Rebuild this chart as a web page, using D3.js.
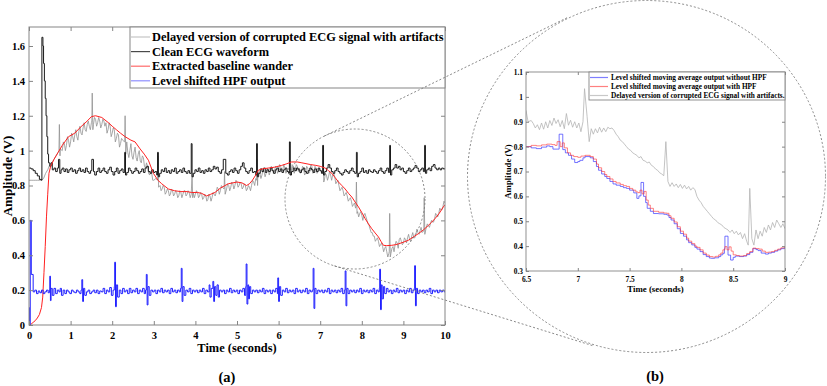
<!DOCTYPE html>
<html><head><meta charset="utf-8">
<script src="https://cdn.jsdelivr.net/npm/d3@7"></script>
<style>
body{margin:0;background:#fff}
text{font-family:"Liberation Serif","Times New Roman",serif;font-weight:bold;fill:#000}
</style>
</head><body><script>
// ---------------- DATA ----------------
const mainXTicks = [0,1,2,3,4,5,6,7,8,9,10];
const mainYTicks = [0,0.2,0.4,0.6,0.8,1,1.2,1.4,1.6];
const insetXTicks = [6.5,7,7.5,8,8.5,9];
const insetYTicks = [0.3,0.4,0.5,0.6,0.7,0.8,0.9,1,1.1];
const mainLegend = ["Delayed version of corrupted ECG signal with artifacts","Clean ECG waveform","Extracted baseline wander","Level shifted HPF output"];
const insetLegend = ["Level shifted moving average output without HPF","Level shifted moving average output with HPF","Delayed version of corrupted ECG signal with artifacts."];

// Delayed corrupted ECG (gray) [time s, amplitude V]
const corrupted = [[0,.83],[.05,.83],[.1,.83],[.15,.83],[.2,.83],[.25,.83],[.3,.83],[.35,.84],[.4,.87],[.45,.89],[.5,.92],[.55,.93],[.6,.95],[.65,.97],[.7,.99],[.72,1.0],[.73,1.15],[.745,.97],[.75,1.01],
[.8,1.0],[.825,1.05],[.85,1.04],[.875,1.0],[.9,1.03],[.925,1.08],[.95,1.06],[.975,1.02],[1.0,1.05],[1.025,1.1],[1.05,1.08],[1.075,1.05],[1.1,1.09],[1.125,1.12],[1.15,1.08],[1.175,1.06],[1.2,1.11],[1.225,1.14],[1.25,1.1],[1.275,1.09],[1.3,1.13],[1.325,1.16],[1.35,1.12],[1.375,1.11],[1.4,1.15],[1.425,1.17],[1.45,1.14],[1.475,1.12],[1.5,1.16],[1.51,1.17],[1.52,1.33],[1.535,1.12],
[1.55,1.15],[1.575,1.19],[1.6,1.18],[1.625,1.14],[1.65,1.16],[1.675,1.19],[1.7,1.17],[1.725,1.13],[1.75,1.15],[1.775,1.18],[1.8,1.17],[1.825,1.14],[1.85,1.16],[1.875,1.1],[1.9,1.12],[1.925,1.16],[1.95,1.14],[1.975,1.08],[2.0,1.1],[2.025,1.13],[2.05,1.12],[2.075,1.05],[2.1,1.07],[2.125,1.1],[2.15,1.09],[2.175,1.02],[2.2,1.04],[2.225,1.07],[2.25,1.06],[2.3,1.05],[2.31,1.2],[2.325,.98],
[2.35,1.05],[2.375,.99],[2.4,.96],[2.425,1.0],[2.45,1.04],[2.475,.97],[2.5,.95],[2.525,.99],[2.55,1.02],[2.575,.96],[2.6,.94],[2.625,.98],[2.65,1.0],[2.675,.94],[2.7,.93],[2.725,.97],[2.75,.96],[2.775,.91],[2.8,.9],[2.825,.93],[2.85,.91],[2.875,.87],[2.9,.86],[2.925,.88],[2.95,.87],[2.975,.83],[3.0,.83],[3.05,.84],[3.09,.83],[3.1,.97],[3.115,.79],
[3.15,.8],[3.175,.77],[3.2,.78],[3.225,.8],[3.25,.79],[3.275,.75],[3.3,.76],[3.325,.78],[3.35,.77],[3.375,.74],[3.4,.75],[3.425,.78],[3.45,.77],[3.475,.74],[3.5,.75],[3.525,.77],[3.55,.76],[3.575,.73],[3.6,.74],[3.625,.77],[3.65,.76],[3.675,.73],[3.7,.75],[3.725,.77],[3.75,.77],[3.775,.74],[3.8,.75],[3.825,.77],[3.85,.76],[3.875,.73],[3.9,.75],[3.92,.87],[3.935,.73],
[3.95,.76],[3.975,.73],[4.0,.75],[4.025,.77],[4.05,.76],[4.075,.73],[4.1,.74],[4.125,.76],[4.15,.75],[4.175,.72],[4.2,.73],[4.225,.75],[4.25,.74],[4.275,.71],[4.3,.72],[4.325,.75],[4.35,.74],[4.375,.71],[4.4,.73],[4.425,.76],[4.45,.75],[4.475,.74],[4.5,.76],[4.525,.79],[4.55,.78],[4.575,.75],[4.6,.77],[4.625,.8],[4.65,.79],[4.69,.78],[4.7,.88],[4.715,.75],
[4.75,.78],[4.775,.81],[4.8,.8],[4.825,.77],[4.85,.79],[4.875,.82],[4.9,.81],[4.925,.78],[4.95,.8],[4.975,.83],[5.0,.82],[5.025,.79],[5.05,.8],[5.075,.82],[5.1,.81],[5.125,.78],[5.15,.79],[5.175,.81],[5.2,.8],[5.225,.77],[5.25,.78],[5.275,.8],[5.3,.79],[5.325,.77],[5.35,.8],[5.375,.83],[5.4,.82],[5.425,.8],[5.45,.84],[5.47,.83],[5.48,.95],[5.495,.8],
[5.5,.85],[5.525,.88],[5.55,.87],[5.575,.84],[5.6,.86],[5.625,.89],[5.65,.88],[5.675,.85],[5.7,.87],[5.725,.9],[5.75,.89],[5.775,.86],[5.8,.88],[5.825,.91],[5.85,.9],[5.875,.87],[5.9,.88],[5.925,.91],[5.95,.9],[5.975,.87],[6.0,.89],[6.025,.92],[6.05,.91],[6.075,.88],[6.1,.89],[6.125,.92],[6.15,.9],[6.175,.87],[6.2,.88],[6.25,.9],[6.26,.89],[6.27,1.05],[6.285,.86],
[6.3,.88],[6.325,.92],[6.35,.91],[6.375,.87],[6.4,.89],[6.425,.92],[6.45,.91],[6.475,.88],[6.5,.9],[6.525,.87],[6.55,.88],[6.575,.91],[6.6,.9],[6.625,.86],[6.65,.87],[6.675,.91],[6.7,.9],[6.725,.87],[6.75,.88],[6.775,.92],[6.8,.91],[6.825,.87],[6.85,.88],[6.875,.91],[6.9,.9],[6.925,.87],[6.95,.88],[6.975,.9],[7.0,.89],[7.05,.87],[7.06,.88],[7.07,1.03],[7.085,.82],
[7.1,.83],[7.125,.87],[7.15,.86],[7.175,.83],[7.2,.85],[7.225,.88],[7.25,.86],[7.275,.83],[7.3,.86],[7.325,.87],[7.35,.85],[7.375,.81],[7.4,.82],[7.425,.83],[7.45,.8],[7.475,.77],[7.5,.78],[7.525,.79],[7.55,.77],[7.575,.74],[7.6,.75],[7.625,.76],[7.65,.74],[7.675,.71],[7.7,.72],[7.725,.73],[7.75,.71],[7.775,.68],[7.8,.69],[7.825,.7],[7.85,.67],[7.86,.68],[7.87,.82],[7.885,.64],
[7.9,.65],[7.925,.62],[7.95,.64],[7.975,.65],[8.0,.63],[8.025,.6],[8.05,.63],[8.075,.64],[8.1,.62],[8.125,.6],[8.15,.58],[8.175,.57],[8.2,.55],[8.225,.53],[8.25,.53],[8.275,.51],[8.3,.51],[8.325,.48],[8.35,.49],[8.375,.5],[8.4,.48],[8.425,.45],[8.45,.46],[8.475,.47],[8.5,.45],[8.525,.42],[8.55,.44],[8.575,.45],[8.6,.42],[8.625,.39],[8.65,.41],[8.66,.42],[8.67,.64],[8.685,.39],
[8.7,.41],[8.725,.44],[8.75,.45],[8.775,.42],[8.8,.46],[8.825,.48],[8.85,.47],[8.875,.44],[8.9,.49],[8.925,.5],[8.95,.48],[8.975,.46],[9.0,.47],[9.025,.5],[9.05,.49],[9.075,.47],[9.1,.5],[9.125,.52],[9.15,.49],[9.175,.48],[9.2,.51],[9.225,.53],[9.25,.5],[9.275,.5],[9.3,.52],[9.325,.55],[9.35,.53],[9.375,.52],[9.4,.54],[9.425,.56],[9.45,.53],[9.49,.54],[9.5,.73],[9.515,.52],
[9.55,.56],[9.575,.58],[9.6,.57],[9.625,.56],[9.65,.58],[9.675,.6],[9.7,.59],[9.725,.59],[9.75,.61],[9.775,.64],[9.8,.63],[9.825,.62],[9.85,.64],[9.875,.67],[9.9,.66],[9.925,.66],[9.95,.68],[9.975,.71],[10,.7]];

// Clean ECG (black)
const cleanECG = [[0,.9],[.05,.895],[.1,.885],[.15,.87],[.2,.855],[.25,.835],[.3,.83],[.31,1.65],[.335,1.6],[.35,1.5],[.37,1.4],[.39,1.3],[.41,1.2],[.43,1.08],[.45,.98],[.47,.93],[.5,.91],[.53,.93],[.56,.89],[.6,.9],[.64,.88],[.68,.9],[.71,.95],[.74,.87],[.77,.89],[.8,.9],[.84,.88],[.88,.895],[.92,.875],[.96,.89],[1.0,.9],[1.04,.88],[1.08,.89],[1.12,.87],[1.16,.885],[1.2,.9],[1.24,.88],[1.28,.89],[1.32,.875],[1.36,.9],[1.4,.88],[1.44,.87],[1.48,.885],[1.51,.95],[1.55,.88],[1.58,.86],[1.62,.88],[1.66,.9],[1.7,.875],[1.74,.885],[1.78,.9],[1.82,.88],[1.86,.87],[1.9,.89],[1.94,.905],[1.98,.88],[2.02,.86],[2.06,.88],[2.1,.9],[2.14,.87],[2.18,.885],[2.22,.895],[2.26,.875],[2.3,.99],[2.32,.86],[2.35,.875],[2.39,.9],[2.43,.885],[2.47,.87],[2.51,.88],[2.55,.9],[2.59,.885],[2.63,.87],[2.67,.88],[2.71,.895],[2.75,.875],[2.79,.9],[2.83,.91],[2.87,.88],[2.91,.87],[2.95,.89],[2.99,.875],[3.03,.88],[3.07,.86],[3.09,.99],[3.11,.85],[3.14,.87],[3.18,.89],[3.22,.88],[3.26,.9],[3.3,.875],[3.34,.885],[3.38,.87],[3.42,.89],[3.46,.88],[3.5,.9],[3.54,.87],[3.58,.88],[3.62,.89],[3.66,.875],[3.7,.9],[3.74,.88],[3.78,.87],[3.82,.885],[3.86,.87],[3.9,1.04],[3.92,.85],[3.95,.87],[3.99,.89],[4.03,.88],[4.07,.9],[4.11,.875],[4.15,.885],[4.19,.87],[4.23,.89],[4.27,.88],[4.31,.9],[4.35,.88],[4.39,.89],[4.43,.91],[4.47,.895],[4.51,.905],[4.55,.88],[4.59,.87],[4.63,.89],[4.67,.95],[4.73,.87],[4.77,.86],[4.81,.88],[4.85,.89],[4.89,.875],[4.93,.9],[4.97,.885],[5.01,.87],[5.05,.89],[5.09,.91],[5.13,.93],[5.17,.9],[5.21,.88],[5.25,.87],[5.29,.885],[5.33,.9],[5.37,.875],[5.41,.88],[5.45,.86],[5.47,1.04],[5.49,.85],[5.52,.87],[5.56,.895],[5.6,.88],[5.64,.9],[5.68,.875],[5.72,.89],[5.76,.88],[5.8,.9],[5.84,.885],[5.88,.87],[5.92,.89],[5.96,.9],[6.0,.88],[6.04,.895],[6.08,.875],[6.12,.89],[6.16,.9],[6.2,.88],[6.24,.87],[6.26,1.05],[6.28,.86],[6.31,.88],[6.35,.9],[6.39,.885],[6.43,.9],[6.47,.89],[6.51,.875],[6.55,.89],[6.59,.9],[6.63,.88],[6.67,.87],[6.71,.885],[6.75,.9],[6.79,.89],[6.83,.875],[6.87,.895],[6.91,.88],[6.95,.9],[6.99,.885],[7.03,.87],[7.06,1.03],[7.08,.86],[7.11,.88],[7.15,.9],[7.19,.92],[7.23,.9],[7.27,.88],[7.31,.87],[7.35,.885],[7.39,.9],[7.43,.88],[7.47,.87],[7.51,.86],[7.55,.875],[7.59,.89],[7.63,.88],[7.67,.87],[7.71,.885],[7.75,.9],[7.79,.88],[7.83,.87],[7.87,.99],[7.89,.85],[7.92,.87],[7.96,.88],[8.0,.9],[8.04,.875],[8.08,.885],[8.12,.87],[8.16,.89],[8.2,.88],[8.24,.875],[8.28,.89],[8.32,.88],[8.36,.87],[8.4,.885],[8.44,.9],[8.48,.88],[8.52,.87],[8.56,.885],[8.6,.9],[8.64,.875],[8.67,1.03],[8.69,.86],[8.72,.89],[8.76,.9],[8.8,.92],[8.84,.9],[8.88,.91],[8.92,.89],[8.96,.9],[9.0,.88],[9.04,.87],[9.08,.885],[9.12,.9],[9.16,.88],[9.2,.89],[9.24,.9],[9.28,.915],[9.32,.9],[9.36,.88],[9.4,.89],[9.44,.9],[9.48,.88],[9.51,1.03],[9.53,.87],[9.56,.89],[9.6,.9],[9.64,.885],[9.68,.91],[9.72,.92],[9.76,.9],[9.8,.89],[9.84,.9],[9.88,.89],[9.92,.9],[9.96,.895],[10,.9]];

// Extracted baseline wander (red)
const baseline = [[0,0],[.05,.005],[.1,.015],[.15,.025],[.2,.04],[.25,.06],[.3,.1],[.33,.16],[.36,.3],[.39,.45],[.42,.62],[.45,.75],[.48,.87],[.52,.91],[.6,.95],[.7,.99],[.8,1.03],[.95,1.08],[1.1,1.1],[1.24,1.135],[1.4,1.17],[1.5,1.195],[1.6,1.2],[1.75,1.19],[1.91,1.16],[2.0,1.14],[2.1,1.12],[2.2,1.1],[2.31,1.08],[2.45,1.06],[2.55,1.05],[2.67,1.01],[2.77,.98],[2.87,.945],[2.99,.87],[3.1,.83],[3.19,.81],[3.35,.78],[3.5,.77],[3.65,.765],[3.8,.765],[3.91,.76],[4.05,.76],[4.15,.755],[4.27,.74],[4.37,.75],[4.47,.76],[4.6,.785],[4.79,.81],[4.9,.815],[5.0,.82],[5.12,.815],[5.23,.8],[5.3,.81],[5.37,.83],[5.45,.86],[5.51,.887],[5.6,.895],[5.75,.9],[5.9,.905],[6.07,.915],[6.2,.925],[6.31,.935],[6.45,.935],[6.56,.93],[6.77,.92],[6.88,.916],[7.0,.91],[7.12,.9],[7.2,.885],[7.28,.87],[7.36,.845],[7.44,.82],[7.52,.8],[7.6,.78],[7.68,.755],[7.76,.734],[7.84,.705],[7.92,.677],[8.0,.645],[8.08,.61],[8.16,.58],[8.24,.552],[8.32,.528],[8.4,.505],[8.46,.48],[8.52,.457],[8.6,.455],[8.72,.457],[8.8,.46],[8.88,.465],[9.0,.475],[9.12,.486],[9.24,.505],[9.36,.524],[9.48,.545],[9.6,.571],[9.68,.59],[9.76,.61],[9.86,.64],[9.96,.677],[10,.69]];

// Level shifted HPF output (blue)
const hpfOut = [[0,.1],[.01,0],[.03,.6],[.055,.29],[.1,.19],[.14,.2],[.18,.18],[.22,.195],[.26,.185],[.3,.2],[.34,.18],[.38,.19],[.42,.2],[.46,.185],[.49,.2],[.5,.28],[.515,.14],[.53,.21],[.56,.17],[.6,.21],[.64,.18],[.68,.2],[.72,.19],[.75,.21],[.78,.17],[.82,.2],[.86,.18],[.9,.2],[.94,.19],[.98,.18],[1.02,.2],[1.06,.19],[1.1,.185],[1.14,.2],[1.18,.19],[1.22,.18],[1.25,.2],[1.27,.26],[1.29,.135],[1.31,.21],[1.34,.17],[1.38,.19],[1.42,.2],[1.46,.18],[1.5,.19],[1.54,.2],[1.58,.185],[1.62,.2],[1.66,.18],[1.7,.195],[1.74,.19],[1.78,.21],[1.82,.18],[1.86,.2],[1.9,.19],[1.94,.215],[1.98,.17],[2.02,.2],[2.05,.22],[2.06,.36],[2.08,.105],[2.1,.23],[2.13,.16],[2.17,.2],[2.21,.18],[2.25,.21],[2.29,.19],[2.33,.2],[2.37,.18],[2.41,.21],[2.45,.185],[2.49,.2],[2.53,.19],[2.57,.21],[2.61,.18],[2.65,.2],[2.69,.19],[2.73,.21],[2.77,.18],[2.8,.2],[2.82,.29],[2.84,.115],[2.86,.22],[2.89,.17],[2.93,.2],[2.97,.19],[3.01,.2],[3.05,.18],[3.09,.2],[3.13,.19],[3.17,.21],[3.21,.185],[3.25,.2],[3.29,.19],[3.33,.2],[3.37,.18],[3.41,.21],[3.45,.19],[3.49,.2],[3.53,.185],[3.57,.2],[3.61,.19],[3.64,.21],[3.66,.325],[3.68,.135],[3.7,.22],[3.73,.17],[3.77,.2],[3.81,.19],[3.85,.21],[3.89,.18],[3.93,.2],[3.97,.19],[4.01,.2],[4.05,.185],[4.09,.2],[4.13,.19],[4.17,.21],[4.21,.18],[4.25,.2],[4.29,.19],[4.33,.23],[4.35,.16],[4.38,.21],[4.42,.25],[4.44,.135],[4.46,.22],[4.49,.17],[4.52,.23],[4.55,.16],[4.58,.2],[4.62,.19],[4.66,.2],[4.7,.18],[4.74,.2],[4.78,.19],[4.82,.21],[4.86,.185],[4.9,.2],[4.94,.19],[4.98,.2],[5.02,.18],[5.06,.2],[5.1,.19],[5.14,.21],[5.18,.17],[5.21,.22],[5.22,.35],[5.24,.12],[5.26,.23],[5.28,.15],[5.3,.22],[5.33,.18],[5.37,.2],[5.41,.19],[5.45,.2],[5.49,.185],[5.53,.2],[5.57,.19],[5.61,.21],[5.65,.18],[5.69,.2],[5.73,.19],[5.77,.2],[5.81,.18],[5.85,.2],[5.89,.19],[5.93,.21],[5.97,.18],[5.98,.27],[6.0,.135],[6.02,.22],[6.05,.17],[6.09,.2],[6.13,.19],[6.17,.21],[6.21,.185],[6.25,.2],[6.29,.19],[6.33,.2],[6.37,.18],[6.41,.21],[6.45,.19],[6.49,.2],[6.53,.185],[6.57,.2],[6.61,.19],[6.65,.21],[6.69,.18],[6.73,.2],[6.77,.19],[6.81,.2],[6.83,.325],[6.85,.095],[6.87,.21],[6.9,.18],[6.94,.2],[6.98,.19],[7.02,.2],[7.06,.185],[7.1,.2],[7.14,.19],[7.18,.21],[7.22,.18],[7.26,.2],[7.3,.19],[7.34,.2],[7.38,.185],[7.42,.2],[7.46,.19],[7.5,.21],[7.54,.18],[7.58,.2],[7.6,.31],[7.62,.11],[7.64,.21],[7.67,.18],[7.71,.2],[7.75,.19],[7.79,.2],[7.83,.185],[7.87,.2],[7.91,.19],[7.95,.21],[7.99,.18],[8.03,.2],[8.07,.19],[8.11,.2],[8.15,.185],[8.19,.2],[8.23,.19],[8.27,.21],[8.31,.18],[8.35,.2],[8.39,.19],[8.42,.21],[8.43,.32],[8.45,.088],[8.47,.23],[8.49,.15],[8.52,.22],[8.55,.18],[8.59,.21],[8.63,.19],[8.67,.2],[8.71,.18],[8.75,.2],[8.79,.19],[8.83,.21],[8.87,.185],[8.91,.2],[8.95,.19],[8.99,.2],[9.03,.18],[9.07,.2],[9.11,.19],[9.15,.21],[9.19,.185],[9.23,.2],[9.26,.21],[9.27,.34],[9.29,.11],[9.31,.21],[9.34,.18],[9.38,.2],[9.42,.19],[9.46,.2],[9.5,.185],[9.54,.2],[9.58,.19],[9.62,.21],[9.66,.18],[9.7,.2],[9.74,.19],[9.78,.2],[9.82,.185],[9.86,.2],[9.9,.19],[9.94,.2],[9.98,.19],[10,.19]];

// Inset: moving average without HPF (blue)
const maNoHpf = [[6.5,.8],[6.55,.795],[6.6,.792],[6.65,.798],[6.7,.803],[6.73,.8],[6.76,.79],[6.8,.79],[6.82,.85],[6.855,.788],[6.88,.775],[6.91,.765],[6.94,.75],[6.97,.736],[7.0,.74],[7.02,.745],[7.05,.755],[7.07,.76],[7.12,.755],[7.15,.74],[7.18,.72],[7.2,.705],[7.23,.69],[7.26,.68],[7.28,.672],[7.31,.66],[7.34,.65],[7.37,.645],[7.41,.64],[7.44,.635],[7.47,.632],[7.5,.625],[7.54,.614],[7.57,.592],[7.59,.602],[7.61,.656],[7.635,.6],[7.655,.575],[7.67,.552],[7.7,.54],[7.73,.531],[7.78,.53],[7.83,.528],[7.86,.525],[7.88,.515],[7.9,.505],[7.93,.49],[7.96,.47],[7.99,.451],[8.02,.44],[8.05,.425],[8.07,.414],[8.1,.405],[8.13,.395],[8.15,.388],[8.18,.378],[8.21,.366],[8.24,.358],[8.27,.352],[8.29,.351],[8.32,.353],[8.36,.358],[8.38,.365],[8.4,.371],[8.415,.39],[8.42,.44],[8.45,.364],[8.475,.344],[8.5,.355],[8.52,.36],[8.56,.358],[8.6,.36],[8.63,.366],[8.66,.375],[8.69,.39],[8.72,.386],[8.74,.382],[8.77,.372],[8.81,.368],[8.84,.372],[8.87,.375],[8.9,.38],[8.93,.385],[8.96,.39],[9.0,.398]];

// Inset: moving average with HPF (red)
const maHpf = [[6.5,.8],[6.55,.805],[6.6,.803],[6.65,.807],[6.7,.81],[6.75,.808],[6.78,.805],[6.8,.82],[6.83,.8],[6.85,.815],[6.87,.795],[6.9,.775],[6.93,.765],[6.96,.76],[7.0,.757],[7.03,.762],[7.07,.765],[7.12,.76],[7.15,.75],[7.18,.73],[7.2,.715],[7.23,.7],[7.26,.688],[7.28,.68],[7.31,.67],[7.34,.66],[7.37,.654],[7.41,.648],[7.44,.643],[7.47,.64],[7.5,.632],[7.53,.625],[7.56,.618],[7.58,.615],[7.6,.625],[7.62,.61],[7.64,.62],[7.66,.585],[7.68,.565],[7.7,.552],[7.73,.54],[7.78,.536],[7.83,.533],[7.86,.532],[7.88,.522],[7.9,.512],[7.93,.497],[7.96,.478],[7.99,.46],[8.02,.448],[8.05,.432],[8.07,.42],[8.1,.41],[8.13,.4],[8.15,.395],[8.18,.385],[8.21,.372],[8.24,.364],[8.27,.358],[8.3,.356],[8.33,.359],[8.36,.365],[8.38,.372],[8.4,.385],[8.42,.398],[8.44,.385],[8.46,.397],[8.48,.38],[8.5,.365],[8.53,.362],[8.56,.36],[8.6,.362],[8.63,.37],[8.66,.378],[8.69,.392],[8.72,.39],[8.75,.388],[8.78,.38],[8.81,.375],[8.84,.376],[8.87,.378],[8.9,.383],[8.93,.388],[8.96,.393],[9.0,.4]];

// Inset: delayed corrupted ECG (gray)
const insetCorrupted = [[6.5,.946],[6.52,.9],[6.55,.905],[6.57,.893],[6.59,.875],[6.61,.888],[6.63,.868],[6.65,.895],[6.67,.87],[6.69,.9],[6.71,.875],[6.73,.905],[6.75,.885],[6.77,.915],[6.79,.893],[6.81,.908],[6.83,.88],[6.85,.905],[6.87,.872],[6.89,.933],[6.91,.886],[6.93,.906],[6.95,.878],[6.97,.9],[6.99,.875],[7.01,.895],[7.03,.86],[7.05,.9],[7.065,1.033],[7.09,.92],[7.11,.82],[7.13,.872],[7.15,.85],[7.17,.872],[7.19,.855],[7.21,.878],[7.23,.858],[7.25,.875],[7.27,.86],[7.29,.878],[7.31,.872],[7.33,.875],[7.35,.865],[7.37,.85],[7.39,.84],[7.41,.826],[7.43,.82],[7.45,.81],[7.47,.8],[7.49,.79],[7.51,.785],[7.53,.775],[7.55,.77],[7.57,.765],[7.59,.755],[7.61,.76],[7.63,.745],[7.65,.742],[7.67,.735],[7.69,.738],[7.71,.725],[7.73,.72],[7.75,.71],[7.77,.705],[7.79,.695],[7.81,.69],[7.83,.683],[7.85,.82],[7.87,.66],[7.89,.64],[7.91,.655],[7.93,.64],[7.95,.65],[7.97,.635],[7.99,.648],[8.01,.632],[8.03,.645],[8.05,.63],[8.07,.64],[8.09,.625],[8.11,.635],[8.13,.628],[8.15,.6],[8.17,.585],[8.19,.575],[8.21,.56],[8.23,.55],[8.25,.54],[8.27,.53],[8.29,.52],[8.31,.51],[8.33,.505],[8.35,.495],[8.37,.49],[8.39,.485],[8.41,.475],[8.43,.47],[8.45,.465],[8.47,.455],[8.49,.465],[8.51,.45],[8.53,.46],[8.55,.445],[8.57,.455],[8.59,.43],[8.61,.45],[8.63,.42],[8.645,.404],[8.66,.632],[8.68,.43],[8.7,.404],[8.72,.465],[8.74,.43],[8.76,.46],[8.78,.44],[8.8,.475],[8.82,.455],[8.84,.485],[8.86,.465],[8.88,.495],[8.9,.475],[8.92,.505],[8.94,.49],[8.96,.475],[8.98,.49],[9.0,.47]];

// ---------------- DRAWING ----------------
const W = 827, H = 386;
const frameCol = "#858585";
const svg = d3.select("body").append("svg").attr("width", W).attr("height", H);
const defs = svg.append("defs");

// ===== Main panel =====
const M = {l: 29, r: 445, t: 27, b: 325};
const x = d3.scaleLinear().domain([0, 10]).range([M.l, M.r]);
const y = d3.scaleLinear().domain([0, 1.709]).range([M.b, M.t]);
defs.append("clipPath").attr("id", "clipMain").append("rect")
  .attr("x", M.l).attr("y", M.t).attr("width", M.r - M.l).attr("height", M.b - M.t);

const lin = d3.line().x(d => x(d[0])).y(d => y(d[1]));
const stp = d3.line().curve(d3.curveStepAfter).x(d => x(d[0])).y(d => y(d[1]));
const gm = svg.append("g").attr("clip-path", "url(#clipMain)");
gm.append("path").datum(corrupted).attr("d", lin).attr("fill", "none").attr("stroke", "#929292").attr("stroke-width", 0.8);
gm.append("path").datum(cleanECG).attr("d", stp).attr("fill", "none").attr("stroke", "#1a1a1a").attr("stroke-width", 1);
gm.append("path").datum(baseline).attr("d", lin).attr("fill", "none").attr("stroke", "#ff2020").attr("stroke-width", 1);
gm.append("path").datum(hpfOut).attr("d", stp).attr("fill", "none").attr("stroke", "#1f1fff").attr("stroke-width", 1);

function styleAxis(g) {
  g.select(".domain").remove();
  g.selectAll(".tick line").attr("stroke", frameCol);
}
svg.append("g").attr("transform", `translate(0,${M.b})`)
  .call(d3.axisBottom(x).tickValues(mainXTicks).tickSize(-4).tickPadding(6.5).tickFormat(d => String(d)))
  .call(styleAxis).call(g => g.selectAll("text").attr("font-size", 10.5).attr("font-family", null));
svg.append("g").attr("transform", `translate(${M.l},0)`)
  .call(d3.axisLeft(y).tickValues(mainYTicks).tickSize(-4).tickPadding(4).tickFormat(d => String(d)))
  .call(styleAxis).call(g => g.selectAll("text").attr("font-size", 10.5).attr("font-family", null));
svg.append("g").attr("transform", `translate(0,${M.t})`)
  .call(d3.axisTop(x).tickValues(mainXTicks).tickSize(-4).tickFormat(""))
  .call(styleAxis);
svg.append("g").attr("transform", `translate(${M.r},0)`)
  .call(d3.axisRight(y).tickValues(mainYTicks).tickSize(-4).tickFormat(""))
  .call(styleAxis);
svg.append("rect").attr("x", M.l).attr("y", M.t).attr("width", M.r - M.l).attr("height", M.b - M.t)
  .attr("fill", "none").attr("stroke", frameCol).attr("stroke-width", 1);

svg.append("text").attr("x", (M.l + M.r) / 2).attr("y", 352).attr("text-anchor", "middle")
  .attr("font-size", 12.4).text("Time (seconds)");
svg.append("text").attr("transform", `translate(11.5,${(M.t + M.b) / 2}) rotate(-90)`).attr("text-anchor", "middle")
  .attr("font-size", 13).text("Amplitude (V)");
svg.append("text").attr("x", 227).attr("y", 382).attr("text-anchor", "middle").attr("font-size", 14.5).text("(a)");

// main legend
const mainLegCols = ["#c4c4c4", "#4a4a4a", "#ff6a6a", "#8f8fff"];
const lg = svg.append("g");
lg.append("rect").attr("x", 130).attr("y", M.t).attr("width", M.r - 130).attr("height", 61)
  .attr("fill", "#fff").attr("stroke", frameCol).attr("stroke-width", 1);
mainLegend.forEach((s, i) => {
  const yy = 37 + i * 14.6;
  lg.append("line").attr("x1", 131).attr("x2", 150).attr("y1", yy).attr("y2", yy)
    .attr("stroke", mainLegCols[i]).attr("stroke-width", 1.2);
  lg.append("text").attr("x", 152).attr("y", yy).attr("dy", "0.34em").attr("font-size", 12.4).text(s);
});

// ===== Zoom decorations =====
const c1 = {x: 355, y: 199, r: 70};
const c2 = {x: 646.5, y: 176.5, r: 177.5};
const dashStyle = sel => sel.attr("fill", "none").attr("stroke", "#7d7d7d").attr("stroke-width", 0.9).attr("stroke-dasharray", "2,2");
svg.append("circle").attr("cx", c1.x).attr("cy", c1.y).attr("r", c1.r).call(dashStyle);
svg.append("ellipse").attr("cx", c2.x).attr("cy", c2.y).attr("rx", 179).attr("ry", 176).call(dashStyle);
{
  const dx = c2.x - c1.x, dy = c2.y - c1.y, d = Math.hypot(dx, dy);
  const ux = dx / d, uy = dy / d, vx = -uy, vy = ux;
  const a = (c2.r - c1.r) / d, b = Math.sqrt(1 - a * a);
  [b, -b].forEach(bb => {
    const nx = a * ux + bb * vx, ny = a * uy + bb * vy;
    svg.append("line")
      .attr("x1", c1.x - c1.r * nx).attr("y1", c1.y - c1.r * ny)
      .attr("x2", c2.x - c2.r * nx).attr("y2", c2.y - c2.r * ny).call(dashStyle);
  });
}

// ===== Inset panel =====
const I = {l: 526, r: 785, t: 72, b: 271};
const xi = d3.scaleLinear().domain([6.5, 9]).range([I.l, I.r]);
const yi = d3.scaleLinear().domain([0.3, 1.1]).range([I.b, I.t]);
defs.append("clipPath").attr("id", "clipInset").append("rect")
  .attr("x", I.l).attr("y", I.t).attr("width", I.r - I.l).attr("height", I.b - I.t);
svg.append("rect").attr("x", I.l).attr("y", I.t).attr("width", I.r - I.l).attr("height", I.b - I.t).attr("fill", "#fff");
const linI = d3.line().x(d => xi(d[0])).y(d => yi(d[1]));
const stpI = d3.line().curve(d3.curveStepAfter).x(d => xi(d[0])).y(d => yi(d[1]));
const gi = svg.append("g").attr("clip-path", "url(#clipInset)");
gi.append("path").datum(insetCorrupted).attr("d", linI).attr("fill", "none").attr("stroke", "#b4b4b4").attr("stroke-width", 0.8);
gi.append("path").datum(maNoHpf).attr("d", stpI).attr("fill", "none").attr("stroke", "#3a3aff").attr("stroke-opacity", 0.7).attr("stroke-width", 1);
gi.append("path").datum(maHpf).attr("d", stpI).attr("fill", "none").attr("stroke", "#ff3030").attr("stroke-opacity", 0.6).attr("stroke-width", 1);

const fmtI = d => String(d);
svg.append("g").attr("transform", `translate(0,${I.b})`)
  .call(d3.axisBottom(xi).tickValues(insetXTicks).tickSize(-3).tickPadding(5.5).tickFormat(fmtI))
  .call(styleAxis).call(g => g.selectAll("text").attr("font-size", 7.4).attr("font-family", null));
svg.append("g").attr("transform", `translate(${I.l},0)`)
  .call(d3.axisLeft(yi).tickValues(insetYTicks).tickSize(-3).tickPadding(3).tickFormat(fmtI))
  .call(styleAxis).call(g => g.selectAll("text").attr("font-size", 7.4).attr("font-family", null));
svg.append("g").attr("transform", `translate(0,${I.t})`)
  .call(d3.axisTop(xi).tickValues(insetXTicks).tickSize(-3).tickFormat(""))
  .call(styleAxis);
svg.append("g").attr("transform", `translate(${I.r},0)`)
  .call(d3.axisRight(yi).tickValues(insetYTicks).tickSize(-3).tickFormat(""))
  .call(styleAxis);
svg.append("rect").attr("x", I.l).attr("y", I.t).attr("width", I.r - I.l).attr("height", I.b - I.t)
  .attr("fill", "none").attr("stroke", frameCol).attr("stroke-width", 0.9);
svg.append("text").attr("x", (I.l + I.r) / 2).attr("y", 292).attr("text-anchor", "middle")
  .attr("font-size", 8.8).text("Time (seconds)");
svg.append("text").attr("transform", `translate(511,${(I.t + I.b) / 2}) rotate(-90)`).attr("text-anchor", "middle")
  .attr("font-size", 8.8).text("Amplitude (V)");
svg.append("text").attr("x", 655).attr("y", 381).attr("text-anchor", "middle").attr("font-size", 14.5).text("(b)");

// inset legend
const insetLegCols = ["#7f7fff", "#ff8080", "#c8c8c8"];
const li = svg.append("g");
li.append("rect").attr("x", 589).attr("y", I.t).attr("width", I.r - 589).attr("height", 28)
  .attr("fill", "#fff").attr("stroke", frameCol).attr("stroke-width", 0.9);
insetLegend.forEach((s, i) => {
  const yy = 77.5 + i * 9;
  li.append("line").attr("x1", 590).attr("x2", 608).attr("y1", yy).attr("y2", yy)
    .attr("stroke", insetLegCols[i]).attr("stroke-width", 1.2);
  li.append("text").attr("x", 611).attr("y", yy).attr("dy", "0.34em").attr("font-size", 7.3).text(s);
});
</script></body></html>
